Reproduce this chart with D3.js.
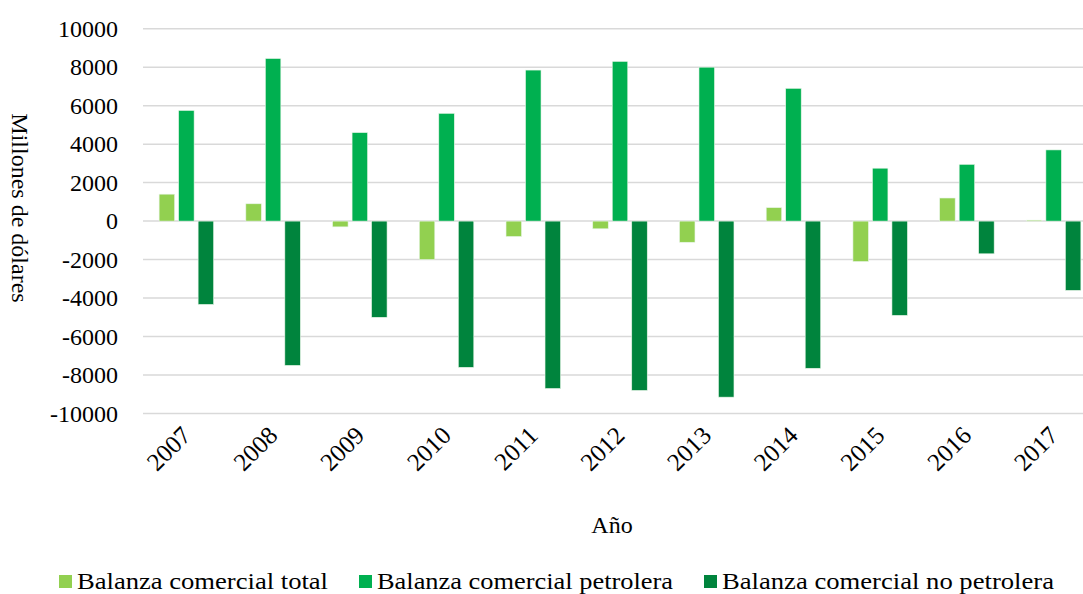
<!DOCTYPE html>
<html>
<head>
<meta charset="utf-8">
<title>Balanza comercial</title>
<script src="https://d3js.org/d3.v7.min.js"></script>
<style>
  body { margin: 0; padding: 0; background: #fff; overflow: hidden; }
</style>
</head>
<body>
<script>
// data
var years = ["2007", "2008", "2009", "2010", "2011", "2012", "2013", "2014", "2015", "2016", "2017"];
var total = [1400, 900, -300, -2000, -800, -400, -1100, 700, -2100, 1200, 50];
var petrolera = [5750, 8450, 4600, 5600, 7850, 8300, 8000, 6900, 2750, 2950, 3700];
var noPetrolera = [-4330, -7500, -5000, -7600, -8700, -8800, -9150, -7650, -4900, -1700, -3600];
var seriesNames = ["Balanza comercial total", "Balanza comercial petrolera", "Balanza comercial no petrolera"];
var colors = ["#92d050", "#00b050", "#00843d"];
var yTicks = [-10000, -8000, -6000, -4000, -2000, 0, 2000, 4000, 6000, 8000, 10000];

var width = 1083, height = 594;
var font = "'Liberation Serif', 'Times New Roman', Times, 'DejaVu Serif', serif";

var svg = d3.select("body").append("svg")
  .attr("width", width)
  .attr("height", height)
  .style("font-family", font);

// plot runs past the right edge, as in the original
var x = d3.scaleBand().domain(years).range([143, 1097]);
var y = d3.scaleLinear().domain([-10000, 10000]).range([413.5, 28.7]);

var series = [total, petrolera, noPetrolera];
var barW = 15.5, barStep = 19.5;

// grid
svg.append("g").selectAll("line")
  .data(yTicks)
  .enter().append("line")
  .attr("x1", 143).attr("x2", width)
  .attr("y1", d => y(d)).attr("y2", d => y(d))
  .style("stroke", "#d9d9d9")
  .style("stroke-width", 1.5);

// y tick labels
svg.append("g").selectAll("text")
  .data(yTicks)
  .enter().append("text")
  .attr("x", 118)
  .attr("y", d => y(d))
  .attr("dy", "0.34em")
  .attr("text-anchor", "end")
  .style("font-family", font)
  .style("font-size", "24px")
  .text(d => d);

// bars
series.forEach(function(vals, s) {
  svg.append("g").selectAll("rect")
    .data(vals)
    .enter().append("rect")
    .attr("x", (d, i) => x(years[i]) + x.bandwidth() / 2 + (s - 1) * barStep - barW / 2)
    .attr("width", barW)
    .attr("y", d => y(Math.max(d, 0)))
    .attr("height", d => Math.abs(y(d) - y(0)))
    .style("fill", colors[s])
    .style("stroke", "#e8f5e8")
    .style("stroke-width", 0.6);
});

// x tick labels
svg.append("g").selectAll("text")
  .data(years)
  .enter().append("text")
  .attr("transform", d => "translate(" + (x(d) + x.bandwidth() / 2 + 6) + ",437) rotate(-45)")
  .attr("text-anchor", "end")
  .style("font-family", font)
  .style("font-size", "25px")
  .text(d => d);

// axis titles
svg.append("text")
  .attr("x", 612).attr("y", 533)
  .attr("text-anchor", "middle")
  .style("font-family", font)
  .style("font-size", "24px")
  .text("Año");

svg.append("text")
  .attr("transform", "translate(12,208) rotate(90)")
  .attr("text-anchor", "middle")
  .style("font-family", font)
  .style("font-size", "24px")
  .text("Millones de dólares");

// legend, text widths matched to the original
var legendWidths = [251, 296, 332];
var legend = svg.append("g");
var lx = 59;
seriesNames.forEach(function(name, s) {
  legend.append("rect")
    .attr("x", lx).attr("y", 575)
    .attr("width", 13).attr("height", 13)
    .style("fill", colors[s]);
  legend.append("text")
    .attr("x", lx + 18).attr("y", 589)
    .attr("textLength", legendWidths[s])
    .attr("lengthAdjust", "spacingAndGlyphs")
    .style("font-family", font)
    .style("font-size", "24px")
    .text(name);
  lx += 18 + legendWidths[s] + 31;
});
</script>
</body>
</html>
